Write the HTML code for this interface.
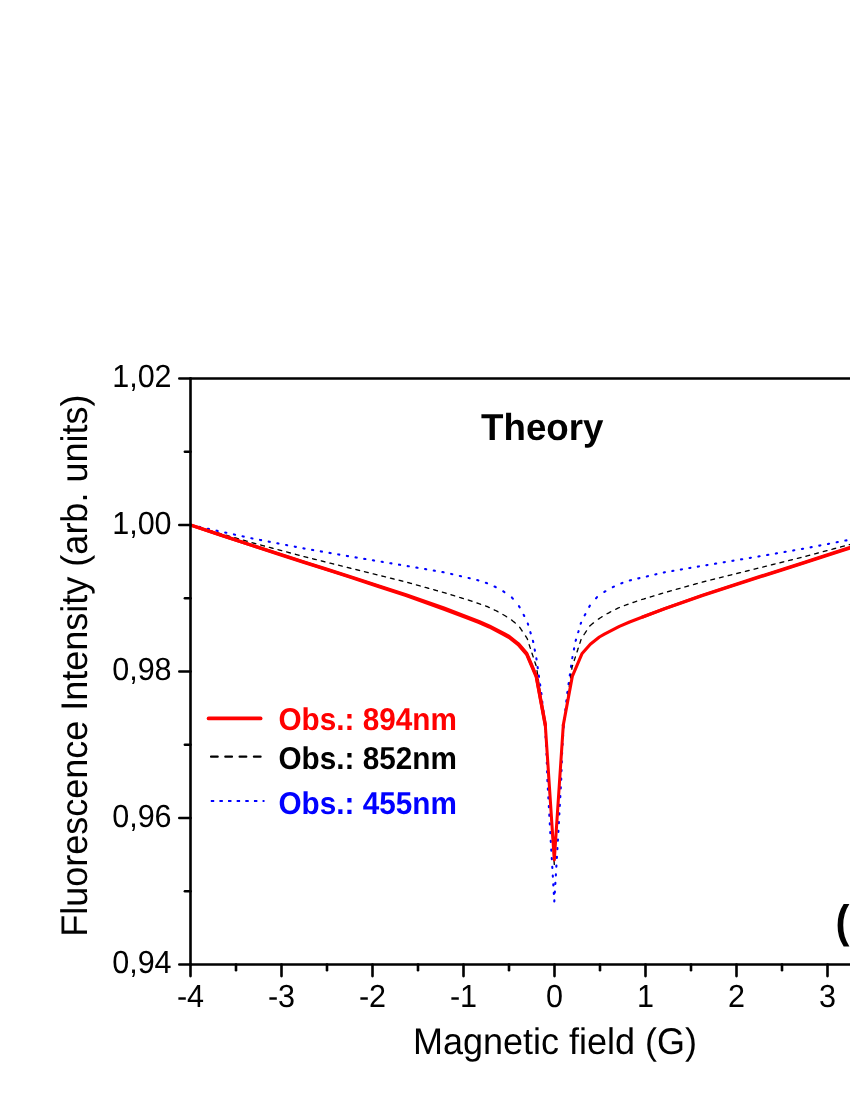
<!DOCTYPE html>
<html><head><meta charset="utf-8"><title>Theory</title>
<style>
html,body{margin:0;padding:0;background:#fff;}
body{width:850px;height:1100px;overflow:hidden;font-family:"Liberation Sans",sans-serif;}
svg{display:block;will-change:transform;opacity:0.999;}
text{text-rendering:geometricPrecision;}
</style></head><body>
<svg width="850" height="1100" viewBox="0 0 850 1100">
<rect width="850" height="1100" fill="#fff"/>
<defs><clipPath id="pc"><rect x="190.5" y="378.5" width="700" height="586"/></clipPath></defs>
<g clip-path="url(#pc)" fill="none">
<path d="M190.50,525.00 L190.99,525.11 L191.48,525.21 L191.58,525.23 M199.15,526.88 L199.64,526.99 L200.13,527.10 L200.28,527.13 M207.81,528.76 L208.30,528.87 L208.78,528.98 L208.98,529.02 M216.51,530.66 L217.00,530.76 L217.49,530.87 L217.68,530.91 M225.21,532.55 L225.70,532.66 L226.19,532.76 L226.34,532.80 M233.91,534.44 L234.40,534.55 L234.89,534.66 L235.04,534.69 M242.57,536.33 L243.06,536.43 L243.54,536.54 L243.74,536.58 M251.27,538.22 L251.76,538.33 L252.25,538.43 L252.44,538.47 M259.96,539.93 L260.45,540.02 L260.94,540.12 L261.13,540.15 M268.65,541.61 L269.14,541.71 L269.63,541.80 L269.78,541.83 M277.34,543.30 L277.83,543.40 L278.32,543.49 L278.47,543.52 M286.03,544.99 L286.52,545.09 L287.01,545.18 L287.16,545.21 M294.72,546.68 L295.21,546.77 L295.70,546.87 L295.85,546.90 M303.41,548.37 L303.90,548.46 L304.40,548.55 L304.54,548.58 M312.09,549.89 L312.58,549.97 L313.07,550.06 L313.22,550.08 M320.77,551.39 L321.26,551.48 L321.75,551.56 L321.95,551.60 M329.49,552.91 L329.99,552.99 L330.48,553.08 L330.63,553.10 M338.17,554.41 L338.67,554.50 L339.16,554.58 L339.31,554.61 M346.85,555.92 L347.34,556.00 L347.84,556.09 L347.99,556.11 M355.53,557.39 L356.03,557.47 L356.52,557.55 L356.72,557.59 M364.21,558.84 L364.71,558.92 L365.20,559.00 L365.40,559.03 M372.90,560.28 L373.39,560.37 L373.88,560.45 L374.08,560.48 M381.63,561.74 L382.12,561.82 L382.62,561.90 L382.76,561.93 M390.31,563.19 L390.81,563.27 L391.30,563.35 L391.45,563.37 M398.99,564.63 L399.49,564.71 L399.98,564.80 L400.13,564.82 M407.68,566.09 L408.17,566.17 L408.66,566.26 L408.81,566.28 M416.35,567.57 L416.84,567.65 L417.34,567.74 L417.53,567.77 M425.07,569.06 L425.57,569.15 L426.06,569.23 L426.21,569.26 M433.75,570.55 L434.24,570.63 L434.73,570.72 L434.88,570.74 M442.42,572.03 L442.92,572.11 L443.41,572.20 L443.61,572.23 M451.13,573.94 L451.62,574.06 L452.10,574.17 L452.30,574.22 M459.82,575.95 L460.30,576.06 L460.79,576.18 L460.99,576.22 M468.50,577.95 L468.99,578.07 L469.48,578.19 L469.68,578.23 M477.21,580.03 L477.69,580.16 L478.17,580.32 L478.36,580.38 M485.87,582.79 L486.34,582.96 L486.80,583.16 L487.03,583.26 M494.58,586.56 L495.03,586.77 L495.47,587.01 L495.73,587.16 M503.24,591.26 L503.67,591.51 L504.08,591.80 L504.41,592.03 M511.85,597.45 L512.17,597.84 L512.50,598.22 L512.82,598.61 M518.98,606.13 L519.22,606.57 L519.46,607.01 L519.60,607.28 M523.63,614.83 L523.87,615.27 L524.11,615.71 L524.25,615.98 M527.80,623.51 L527.94,623.99 L528.08,624.47 L528.14,624.66 M530.37,632.19 L530.51,632.67 L530.65,633.15 L530.71,633.34 M532.94,640.87 L533.09,641.35 L533.19,641.84 L533.23,642.04 M534.71,649.60 L534.81,650.09 L534.90,650.58 L534.93,650.73 M536.38,658.29 L536.45,658.79 L536.52,659.29 L536.54,659.44 M537.60,666.97 L537.67,667.47 L537.74,667.96 L537.76,668.11 M538.82,675.65 L538.89,676.14 L538.97,676.64 L538.99,676.79 M540.08,684.32 L540.15,684.82 L540.23,685.31 L540.26,685.51 M541.34,693.05 L541.39,693.55 L541.45,694.04 L541.47,694.19 M542.30,701.71 L542.36,702.21 L542.41,702.70 L542.43,702.85 M543.27,710.42 L543.33,710.92 L543.39,711.41 L543.40,711.56 M544.24,719.08 L544.30,719.58 L544.35,720.07 L544.37,720.27 M545.07,727.80 L545.10,728.30 L545.13,728.80 L545.14,728.95 M545.59,736.50 L545.62,737.00 L545.65,737.50 L545.66,737.65 M546.11,745.15 L546.14,745.65 L546.17,746.15 L546.18,746.30 M546.53,753.85 L546.54,754.35 L546.56,754.85 L546.57,755.00 M546.82,762.55 L546.83,763.05 L546.85,763.55 L546.86,763.70 M547.11,771.25 L547.12,771.75 L547.14,772.25 L547.15,772.40 M547.40,779.90 L547.42,780.40 L547.45,780.90 L547.46,781.10 M547.87,788.59 L547.90,789.09 L547.93,789.59 L547.94,789.74 M548.35,797.29 L548.38,797.79 L548.41,798.28 L548.41,798.43 M548.83,805.98 L548.86,806.48 L548.88,806.98 L548.89,807.13 M549.31,814.67 L549.33,815.17 L549.36,815.67 L549.37,815.82 M549.79,823.36 L549.81,823.86 L549.84,824.36 L549.85,824.51 M550.26,832.06 L550.29,832.56 L550.32,833.06 L550.33,833.21 M550.74,840.75 L550.77,841.25 L550.80,841.75 L550.81,841.90 M551.25,849.43 L551.28,849.93 L551.31,850.43 L551.32,850.58 M551.76,858.12 L551.79,858.62 L551.82,859.12 L551.83,859.27 M552.27,866.81 L552.30,867.31 L552.33,867.80 L552.34,867.95 M552.78,875.49 L552.81,875.99 L552.84,876.49 L552.84,876.64 M553.29,884.18 L553.32,884.68 L553.34,885.18 L553.35,885.33 M553.79,892.86 L553.82,893.36 L553.85,893.86 L553.86,894.01 M554.31,901.40 L554.34,900.90 L554.36,900.40 L554.37,900.25 M554.81,892.71 L554.84,892.22 L554.87,891.72 L554.88,891.57 M555.32,884.03 L555.35,883.53 L555.38,883.03 L555.39,882.88 M555.83,875.34 L555.86,874.84 L555.89,874.34 L555.90,874.19 M556.34,866.66 L556.37,866.16 L556.40,865.66 L556.41,865.51 M556.85,857.97 L556.88,857.47 L556.91,856.97 L556.92,856.82 M557.36,849.28 L557.39,848.79 L557.41,848.29 L557.42,848.14 M557.86,840.60 L557.89,840.10 L557.92,839.60 L557.93,839.45 M558.35,831.91 L558.37,831.41 L558.40,830.91 L558.41,830.76 M558.82,823.21 L558.85,822.71 L558.88,822.21 L558.89,822.06 M559.30,814.52 L559.33,814.02 L559.36,813.52 L559.36,813.37 M559.78,805.83 L559.81,805.33 L559.83,804.83 L559.84,804.68 M560.26,797.14 L560.29,796.64 L560.31,796.14 L560.32,795.99 M560.74,788.44 L560.76,787.94 L560.79,787.44 L560.80,787.29 M561.21,779.80 L561.22,779.30 L561.24,778.80 L561.24,778.65 M561.50,771.10 L561.51,770.60 L561.53,770.10 L561.53,769.95 M561.79,762.40 L561.80,761.90 L561.82,761.40 L561.82,761.25 M562.08,753.70 L562.09,753.20 L562.11,752.70 L562.11,752.55 M562.50,745.00 L562.53,744.50 L562.56,744.00 L562.57,743.85 M563.02,736.35 L563.05,735.85 L563.08,735.35 L563.09,735.20 M563.54,727.65 L563.57,727.15 L563.60,726.65 L563.61,726.50 M564.38,718.93 L564.43,718.43 L564.49,717.93 L564.50,717.78 M565.34,710.27 L565.40,709.77 L565.45,709.27 L565.47,709.12 M566.31,701.56 L566.37,701.06 L566.42,700.56 L566.44,700.41 M567.28,692.90 L567.34,692.40 L567.42,691.91 L567.44,691.71 M568.54,684.17 L568.61,683.68 L568.68,683.18 L568.70,683.03 M569.80,675.50 L569.87,675.00 L569.94,674.51 L569.96,674.36 M571.02,666.82 L571.09,666.33 L571.16,665.83 L571.18,665.68 M572.24,658.15 L572.31,657.65 L572.41,657.16 L572.44,656.96 M573.92,649.45 L574.02,648.96 L574.11,648.47 L574.15,648.27 M575.67,640.82 L575.81,640.35 L575.95,639.87 L576.01,639.67 M578.20,632.29 L578.34,631.81 L578.49,631.33 L578.53,631.19 M580.72,623.80 L580.86,623.32 L581.00,622.84 L581.04,622.70 M584.71,615.32 L584.94,614.88 L585.18,614.43 L585.32,614.17 M589.26,606.79 L589.50,606.35 L589.73,605.91 L589.85,605.69 M596.04,598.30 L596.36,597.91 L596.69,597.53 L596.98,597.18 M604.32,591.94 L604.73,591.66 L605.14,591.38 L605.41,591.23 M612.82,587.18 L613.26,586.94 L613.70,586.70 L613.93,586.60 M621.30,583.38 L621.76,583.18 L622.22,582.98 L622.45,582.88 M629.81,580.52 L630.29,580.36 L630.77,580.21 L630.96,580.15 M638.29,578.38 L638.78,578.27 L639.26,578.15 L639.46,578.11 M646.83,576.40 L647.32,576.29 L647.81,576.18 L647.95,576.14 M655.33,574.44 L655.81,574.33 L656.30,574.22 L656.45,574.18 M663.82,572.48 L664.31,572.37 L664.80,572.27 L664.95,572.24 M672.34,570.98 L672.83,570.89 L673.32,570.81 L673.42,570.79 M680.82,569.53 L681.31,569.44 L681.80,569.36 L681.95,569.33 M689.34,568.07 L689.83,567.98 L690.33,567.90 L690.43,567.88 M697.82,566.62 L698.31,566.53 L698.80,566.45 L698.95,566.42 M706.35,565.18 L706.84,565.09 L707.34,565.01 L707.48,564.99 M714.98,563.74 L715.48,563.65 L715.97,563.57 L716.17,563.54 M723.71,562.28 L724.21,562.20 L724.70,562.12 L724.85,562.09 M732.40,560.83 L732.89,560.75 L733.38,560.67 L733.53,560.64 M741.08,559.39 L741.57,559.30 L742.07,559.22 L742.21,559.20 M749.76,557.94 L750.26,557.86 L750.75,557.78 L750.90,557.75 M758.45,556.49 L758.94,556.40 L759.43,556.32 L759.58,556.29 M767.12,554.98 L767.62,554.90 L768.11,554.81 L768.31,554.78 M775.85,553.47 L776.34,553.38 L776.84,553.30 L776.99,553.27 M784.53,551.96 L785.02,551.88 L785.52,551.79 L785.66,551.77 M793.21,550.46 L793.70,550.37 L794.19,550.29 L794.34,550.26 M801.89,548.95 L802.38,548.87 L802.87,548.78 L803.07,548.75 M810.59,547.32 L811.08,547.22 L811.57,547.13 L811.72,547.10 M819.28,545.63 L819.77,545.53 L820.26,545.44 L820.41,545.41 M827.97,543.94 L828.46,543.85 L828.95,543.75 L829.10,543.72 M836.66,542.25 L837.15,542.16 L837.64,542.06 L837.79,542.03 M845.35,540.56 L845.84,540.47 L846.34,540.37 L846.48,540.35 M854.04,538.88 L854.54,538.78 L855.03,538.69 L855.17,538.66 M862.71,537.05 L863.20,536.94 L863.69,536.84 L863.88,536.79 M871.41,535.16 L871.90,535.05 L872.39,534.94 L872.58,534.90 M880.11,533.26 L880.60,533.16 L881.09,533.05 L881.24,533.02 M888.77,531.38 L889.26,531.27 L889.74,531.17 L889.94,531.13 M897.47,529.49 L897.96,529.38 L898.45,529.28 L898.64,529.23 M906.17,527.59 L906.66,527.49 L907.15,527.38 L907.30,527.35 M914.87,525.70 L915.36,525.60 L915.85,525.49 L916.00,525.46" stroke="#0000ff" stroke-width="2.1" stroke-linecap="round"/>
<path d="M191.51,525.29 L191.99,525.43 L192.47,525.57 L192.95,525.70 L193.43,525.84 L193.91,525.98 L194.40,526.12 L194.88,526.26 L195.21,526.35 M200.17,527.78 L200.65,527.92 L201.13,528.05 L201.61,528.19 L202.09,528.33 L202.57,528.47 L203.05,528.61 L203.53,528.74 L203.87,528.84 M208.82,530.26 L209.30,530.40 L209.78,530.54 L210.27,530.68 L210.75,530.82 L211.23,530.96 L211.71,531.09 L212.19,531.23 L212.48,531.31 M217.43,532.74 L217.91,532.88 L218.39,533.01 L218.87,533.15 L219.35,533.29 L219.84,533.43 L220.32,533.57 L220.80,533.70 L221.13,533.80 M226.09,535.22 L226.57,535.36 L227.05,535.50 L227.53,535.64 L228.01,535.78 L228.49,535.92 L228.97,536.05 L229.45,536.19 L229.79,536.29 M234.74,537.71 L235.23,537.85 L235.71,537.99 L236.19,538.13 L236.67,538.26 L237.15,538.40 L237.63,538.54 L238.11,538.68 L238.45,538.78 M243.40,540.20 L243.88,540.34 L244.36,540.47 L244.84,540.61 L245.32,540.75 L245.81,540.89 L246.29,541.03 L246.77,541.17 L247.10,541.26 M252.06,542.69 L252.54,542.82 L253.02,542.96 L253.50,543.10 L253.98,543.23 L254.47,543.36 L254.95,543.49 L255.43,543.62 L255.77,543.71 M260.70,545.02 L261.18,545.15 L261.67,545.28 L262.15,545.41 L262.63,545.54 L263.12,545.67 L263.60,545.80 L264.08,545.93 L264.42,546.02 M269.35,547.34 L269.83,547.47 L270.32,547.60 L270.80,547.72 L271.28,547.85 L271.77,547.98 L272.25,548.11 L272.73,548.24 L273.07,548.33 M278.00,549.65 L278.48,549.78 L278.97,549.91 L279.45,550.04 L279.93,550.17 L280.42,550.30 L280.90,550.42 L281.38,550.55 L281.72,550.64 M286.65,551.96 L287.13,552.09 L287.62,552.22 L288.10,552.35 L288.58,552.48 L289.07,552.61 L289.55,552.74 L290.03,552.87 L290.37,552.96 M295.30,554.27 L295.78,554.40 L296.27,554.53 L296.75,554.66 L297.23,554.79 L297.72,554.92 L298.20,555.05 L298.68,555.18 L299.02,555.27 M303.95,556.59 L304.44,556.71 L304.92,556.83 L305.41,556.95 L305.89,557.07 L306.38,557.19 L306.86,557.31 L307.35,557.44 L307.64,557.51 M312.59,558.74 L313.08,558.86 L313.56,558.99 L314.05,559.11 L314.53,559.23 L315.02,559.35 L315.50,559.47 L315.99,559.59 L316.28,559.66 M321.23,560.90 L321.72,561.02 L322.20,561.14 L322.69,561.26 L323.17,561.38 L323.66,561.50 L324.14,561.63 L324.63,561.75 L324.97,561.83 M329.92,563.07 L330.41,563.19 L330.89,563.31 L331.38,563.43 L331.86,563.55 L332.35,563.67 L332.83,563.79 L333.32,563.91 L333.61,563.99 M338.56,565.22 L339.04,565.34 L339.53,565.46 L340.02,565.58 L340.50,565.71 L340.99,565.83 L341.47,565.95 L341.96,566.07 L342.25,566.14 M347.20,567.38 L347.68,567.50 L348.17,567.62 L348.66,567.74 L349.14,567.86 L349.63,567.98 L350.11,568.10 L350.60,568.22 L350.89,568.30 M355.84,569.53 L356.33,569.65 L356.81,569.77 L357.30,569.89 L357.78,570.01 L358.27,570.13 L358.75,570.25 L359.24,570.37 L359.53,570.45 M364.48,571.68 L364.97,571.80 L365.46,571.92 L365.94,572.04 L366.43,572.16 L366.91,572.28 L367.40,572.40 L367.88,572.52 L368.22,572.61 M373.13,573.83 L373.61,573.95 L374.10,574.07 L374.58,574.19 L375.07,574.31 L375.56,574.43 L376.04,574.55 L376.53,574.67 L376.87,574.76 M381.82,575.99 L382.30,576.11 L382.79,576.23 L383.28,576.35 L383.76,576.47 L384.25,576.59 L384.73,576.71 L385.22,576.83 L385.51,576.90 M390.46,578.14 L390.95,578.26 L391.43,578.38 L391.92,578.50 L392.40,578.62 L392.89,578.74 L393.38,578.86 L393.86,578.98 L394.15,579.05 M399.10,580.29 L399.59,580.41 L400.08,580.53 L400.56,580.65 L401.05,580.77 L401.53,580.89 L402.02,581.01 L402.50,581.13 L402.80,581.20 M407.73,582.48 L408.22,582.62 L408.70,582.75 L409.18,582.89 L409.66,583.02 L410.14,583.16 L410.62,583.29 L411.11,583.42 L411.44,583.52 M416.40,584.90 L416.88,585.04 L417.37,585.17 L417.85,585.30 L418.33,585.44 L418.81,585.57 L419.29,585.71 L419.77,585.84 L420.11,585.94 M425.07,587.32 L425.55,587.45 L426.04,587.59 L426.52,587.72 L427.00,587.86 L427.48,587.99 L427.96,588.13 L428.44,588.26 L428.73,588.34 M433.69,589.72 L434.17,589.86 L434.66,589.99 L435.14,590.13 L435.62,590.26 L436.10,590.40 L436.58,590.53 L437.06,590.67 L437.40,590.76 M442.36,592.14 L442.84,592.28 L443.33,592.41 L443.81,592.55 L444.29,592.69 L444.77,592.83 L445.25,592.98 L445.72,593.13 L446.06,593.23 M450.99,594.74 L451.47,594.89 L451.95,595.04 L452.43,595.18 L452.91,595.33 L453.39,595.48 L453.87,595.62 L454.34,595.77 L454.68,595.87 M459.66,597.40 L460.14,597.55 L460.62,597.69 L461.10,597.84 L461.58,597.99 L462.05,598.13 L462.53,598.28 L463.01,598.43 L463.35,598.53 M468.28,600.04 L468.76,600.19 L469.24,600.34 L469.72,600.48 L470.19,600.63 L470.67,600.80 L471.14,600.96 L471.61,601.13 L471.99,601.26 M476.95,602.99 L477.42,603.15 L477.90,603.32 L478.37,603.48 L478.84,603.65 L479.31,603.81 L479.79,603.98 L480.26,604.14 L480.64,604.28 M485.60,606.01 L486.07,606.17 L486.54,606.34 L487.02,606.50 L487.48,606.69 L487.93,606.90 L488.39,607.11 L488.84,607.33 L489.29,607.54 M494.23,609.87 L494.69,610.08 L495.14,610.29 L495.59,610.51 L496.04,610.72 L496.48,610.97 L496.92,611.21 L497.36,611.45 L497.80,611.69 L497.97,611.79 M502.88,614.50 L503.32,614.75 L503.76,614.99 L504.19,615.23 L504.63,615.48 L505.05,615.75 L505.47,616.03 L505.89,616.30 L506.31,616.57 L506.60,616.76 M511.56,619.97 L511.95,620.29 L512.34,620.60 L512.73,620.92 L513.11,621.24 L513.50,621.55 L513.89,621.87 L514.28,622.19 L514.67,622.50 L515.05,622.82 L515.25,622.98 M519.70,627.30 L519.98,627.72 L520.26,628.13 L520.54,628.55 L520.82,628.96 L521.10,629.38 L521.38,629.80 L521.65,630.21 L521.93,630.63 L522.18,631.00 M525.50,635.96 L525.78,636.38 L526.06,636.79 L526.34,637.21 L526.61,637.63 L526.89,638.04 L527.17,638.46 L527.34,638.93 L527.49,639.40 L527.57,639.64 M529.19,644.59 L529.34,645.07 L529.50,645.54 L529.65,646.02 L529.81,646.49 L529.96,646.97 L530.12,647.44 L530.27,647.92 L530.40,648.30 M532.01,653.25 L532.17,653.73 L532.32,654.20 L532.48,654.68 L532.63,655.15 L532.79,655.63 L532.94,656.10 L533.10,656.58 L533.22,656.96 M534.84,661.91 L534.99,662.38 L535.15,662.86 L535.30,663.34 L535.46,663.81 L535.62,664.29 L535.77,664.76 L535.93,665.24 L536.05,665.62 M537.01,670.56 L537.09,671.06 L537.16,671.56 L537.23,672.05 L537.30,672.55 L537.37,673.04 L537.44,673.54 L537.51,674.03 L537.54,674.23 M538.26,679.18 L538.33,679.68 L538.40,680.17 L538.47,680.67 L538.54,681.16 L538.61,681.66 L538.69,682.15 L538.76,682.65 L538.79,682.89 M539.51,687.84 L539.58,688.34 L539.65,688.84 L539.72,689.33 L539.79,689.83 L539.86,690.32 L539.94,690.82 L540.01,691.31 L540.04,691.56 M540.76,696.51 L540.83,697.00 L540.90,697.50 L540.97,698.00 L541.04,698.49 L541.11,698.99 L541.19,699.48 L541.26,699.98 L541.29,700.22 M542.01,705.17 L542.08,705.67 L542.15,706.16 L542.22,706.66 L542.29,707.16 L542.36,707.65 L542.44,708.15 L542.51,708.64 L542.54,708.84 M543.25,713.79 L543.32,714.28 L543.39,714.78 L543.46,715.28 L543.54,715.77 L543.61,716.27 L543.68,716.76 L543.75,717.26 L543.79,717.50 M544.50,722.45 L544.57,722.95 L544.64,723.44 L544.71,723.94 L544.79,724.44 L544.86,724.93 L544.93,725.43 L545.00,725.92 L545.04,726.17 M545.50,731.09 L545.54,731.59 L545.57,732.09 L545.60,732.59 L545.64,733.09 L545.67,733.59 L545.70,734.09 L545.73,734.59 L545.75,734.79 M546.07,739.73 L546.11,740.23 L546.14,740.73 L546.17,741.23 L546.20,741.72 L546.24,742.22 L546.27,742.72 L546.30,743.22 L546.32,743.47 M546.65,748.41 L546.68,748.91 L546.71,749.41 L546.74,749.91 L546.78,750.41 L546.81,750.91 L546.84,751.41 L546.88,751.91 L546.89,752.11 M547.22,757.05 L547.25,757.55 L547.28,758.04 L547.31,758.54 L547.35,759.04 L547.38,759.54 L547.41,760.04 L547.45,760.54 L547.46,760.74 M547.78,765.68 L547.82,766.18 L547.85,766.68 L547.88,767.18 L547.92,767.68 L547.95,768.18 L547.98,768.68 L548.01,769.17 L548.03,769.42 M548.36,774.37 L548.39,774.86 L548.42,775.36 L548.46,775.86 L548.49,776.36 L548.52,776.86 L548.55,777.36 L548.59,777.86 L548.60,778.06 M548.93,783.00 L548.96,783.50 L548.99,784.00 L549.03,784.50 L549.06,785.00 L549.09,785.49 L549.12,785.99 L549.16,786.49 L549.17,786.69 M549.50,791.63 L549.53,792.13 L549.56,792.63 L549.59,793.13 L549.63,793.63 L549.66,794.13 L549.69,794.63 L549.73,795.13 L549.74,795.33 M550.07,800.32 L550.10,800.82 L550.13,801.32 L550.17,801.81 L550.20,802.31 L550.23,802.81 L550.27,803.31 L550.30,803.81 L550.31,804.01 M550.64,808.95 L550.67,809.45 L550.70,809.95 L550.74,810.45 L550.77,810.95 L550.80,811.45 L550.83,811.95 L550.87,812.45 L550.88,812.64 M551.21,817.59 L551.24,818.09 L551.27,818.58 L551.31,819.08 L551.34,819.58 L551.37,820.08 L551.40,820.58 L551.44,821.08 L551.45,821.28 M551.78,826.27 L551.81,826.77 L551.85,827.27 L551.88,827.77 L551.91,828.27 L551.94,828.77 L551.98,829.26 L552.01,829.76 L552.02,829.96 M552.35,834.90 L552.38,835.40 L552.41,835.90 L552.45,836.40 L552.48,836.90 L552.51,837.40 L552.55,837.90 L552.58,838.40 L552.59,838.60 M552.92,843.54 L552.95,844.04 L552.98,844.54 L553.02,845.04 L553.05,845.53 L553.08,846.03 L553.12,846.53 L553.15,847.03 L553.16,847.23 M553.49,852.22 L553.52,852.72 L553.56,853.22 L553.59,853.72 L553.62,854.22 L553.66,854.72 L553.69,855.22 L553.72,855.72 L553.73,855.92 M554.06,860.86 L554.09,861.36 L554.13,861.85 L554.16,862.35 L554.19,862.85 L554.22,863.35 L554.26,863.85 L554.29,864.35 L554.30,864.45 M554.63,859.51 L554.66,859.01 L554.69,858.51 L554.73,858.01 L554.76,857.51 L554.79,857.01 L554.83,856.51 L554.86,856.02 L554.87,855.82 M555.20,850.87 L555.23,850.38 L555.26,849.88 L555.30,849.38 L555.33,848.88 L555.36,848.38 L555.40,847.88 L555.43,847.38 L555.45,847.13 M555.77,842.19 L555.80,841.69 L555.84,841.19 L555.87,840.69 L555.90,840.19 L555.94,839.70 L555.97,839.20 L556.00,838.70 L556.01,838.50 M556.34,833.56 L556.37,833.06 L556.41,832.56 L556.44,832.06 L556.47,831.56 L556.50,831.06 L556.54,830.56 L556.57,830.06 L556.58,829.86 M556.91,824.92 L556.94,824.42 L556.98,823.92 L557.01,823.43 L557.04,822.93 L557.07,822.43 L557.11,821.93 L557.14,821.43 L557.16,821.18 M557.48,816.24 L557.51,815.74 L557.55,815.24 L557.58,814.74 L557.61,814.24 L557.65,813.74 L557.68,813.24 L557.71,812.74 L557.73,812.55 M558.05,807.60 L558.08,807.11 L558.12,806.61 L558.15,806.11 L558.18,805.61 L558.22,805.11 L558.25,804.61 L558.28,804.11 L558.29,803.91 M558.62,798.97 L558.65,798.47 L558.69,797.97 L558.72,797.47 L558.75,796.97 L558.79,796.47 L558.82,795.98 L558.85,795.48 L558.87,795.23 M559.19,790.29 L559.23,789.79 L559.26,789.29 L559.29,788.79 L559.32,788.29 L559.36,787.79 L559.39,787.29 L559.42,786.79 L559.44,786.59 M559.76,781.65 L559.80,781.15 L559.83,780.65 L559.86,780.15 L559.89,779.66 L559.93,779.16 L559.96,778.66 L559.99,778.16 L560.01,777.96 M560.33,773.02 L560.36,772.52 L560.40,772.02 L560.43,771.52 L560.46,771.02 L560.50,770.52 L560.53,770.02 L560.56,769.52 L560.58,769.32 M560.90,764.33 L560.94,763.83 L560.97,763.34 L561.00,762.84 L561.04,762.34 L561.07,761.84 L561.10,761.34 L561.13,760.84 L561.15,760.64 M561.47,755.70 L561.51,755.20 L561.54,754.70 L561.57,754.20 L561.61,753.70 L561.64,753.20 L561.67,752.70 L561.70,752.21 L561.72,752.01 M562.04,747.07 L562.08,746.57 L562.11,746.07 L562.14,745.57 L562.17,745.07 L562.21,744.57 L562.24,744.07 L562.27,743.57 L562.29,743.37 M562.62,738.38 L562.65,737.88 L562.68,737.38 L562.71,736.88 L562.75,736.38 L562.78,735.89 L562.81,735.39 L562.85,734.89 L562.86,734.69 M563.18,729.75 L563.22,729.25 L563.25,728.75 L563.28,728.25 L563.34,727.75 L563.41,727.26 L563.48,726.76 L563.55,726.27 L563.58,726.07 M564.29,721.12 L564.36,720.62 L564.44,720.13 L564.51,719.63 L564.58,719.14 L564.65,718.64 L564.72,718.15 L564.79,717.65 L564.83,717.40 M565.54,712.45 L565.61,711.96 L565.69,711.46 L565.76,710.97 L565.83,710.47 L565.90,709.98 L565.97,709.48 L566.04,708.99 L566.08,708.74 M566.79,703.79 L566.86,703.29 L566.94,702.80 L567.01,702.30 L567.08,701.81 L567.15,701.31 L567.22,700.82 L567.29,700.32 L567.32,700.12 M568.04,695.17 L568.11,694.68 L568.18,694.18 L568.25,693.69 L568.32,693.19 L568.39,692.70 L568.46,692.20 L568.54,691.71 L568.57,691.46 M569.29,686.51 L569.36,686.01 L569.43,685.52 L569.50,685.02 L569.57,684.53 L569.64,684.03 L569.71,683.54 L569.79,683.04 L569.82,682.79 M570.54,677.84 L570.61,677.35 L570.68,676.85 L570.75,676.36 L570.82,675.86 L570.89,675.37 L570.96,674.87 L571.04,674.38 L571.07,674.13 M571.79,669.18 L571.86,668.68 L571.93,668.19 L572.00,667.69 L572.07,667.20 L572.19,666.71 L572.35,666.24 L572.50,665.76 L572.60,665.48 M574.21,660.53 L574.37,660.05 L574.52,659.58 L574.68,659.10 L574.83,658.63 L574.99,658.15 L575.14,657.67 L575.30,657.20 L575.41,656.87 M577.02,651.92 L577.18,651.44 L577.33,650.97 L577.49,650.49 L577.64,650.01 L577.80,649.54 L577.95,649.06 L578.11,648.59 L578.23,648.21 M579.85,643.26 L580.00,642.78 L580.16,642.31 L580.31,641.83 L580.47,641.35 L580.62,640.88 L580.78,640.40 L580.93,639.93 L581.06,639.55 M584.02,634.59 L584.30,634.17 L584.58,633.75 L584.86,633.34 L585.13,632.92 L585.41,632.50 L585.69,632.09 L585.97,631.67 L586.25,631.25 L586.50,630.88 M589.79,625.97 L590.13,625.61 L590.52,625.29 L590.91,624.98 L591.30,624.66 L591.68,624.34 L592.07,624.03 L592.46,623.71 L592.85,623.39 L593.24,623.07 L593.47,622.88 M598.39,619.10 L598.81,618.83 L599.23,618.56 L599.65,618.29 L600.07,618.01 L600.49,617.74 L600.91,617.47 L601.33,617.20 L601.75,616.92 L602.08,616.71 M607.04,613.78 L607.47,613.53 L607.91,613.29 L608.35,613.05 L608.79,612.81 L609.23,612.57 L609.66,612.32 L610.10,612.08 L610.54,611.84 L610.76,611.72 M615.68,609.25 L616.13,609.03 L616.59,608.82 L617.04,608.61 L617.49,608.39 L617.95,608.18 L618.40,607.97 L618.85,607.75 L619.31,607.54 L619.40,607.50 M624.37,605.53 L624.84,605.36 L625.32,605.20 L625.79,605.03 L626.26,604.87 L626.73,604.70 L627.21,604.54 L627.68,604.37 L628.06,604.24 M633.02,602.51 L633.49,602.35 L633.96,602.18 L634.44,602.02 L634.91,601.85 L635.38,601.69 L635.85,601.52 L636.33,601.36 L636.70,601.23 M641.66,599.63 L642.14,599.48 L642.62,599.34 L643.10,599.19 L643.58,599.04 L644.06,598.90 L644.53,598.75 L645.01,598.60 L645.35,598.50 M650.28,596.99 L650.76,596.84 L651.24,596.70 L651.72,596.55 L652.20,596.40 L652.68,596.26 L653.15,596.11 L653.63,595.96 L654.02,595.84 M658.95,594.33 L659.43,594.19 L659.91,594.04 L660.39,593.89 L660.86,593.74 L661.34,593.60 L661.82,593.45 L662.30,593.30 L662.64,593.20 M667.59,591.77 L668.07,591.63 L668.55,591.50 L669.03,591.36 L669.51,591.23 L669.99,591.10 L670.48,590.96 L670.96,590.83 L671.29,590.73 M676.26,589.35 L676.74,589.21 L677.22,589.08 L677.70,588.95 L678.18,588.81 L678.66,588.68 L679.14,588.54 L679.63,588.41 L679.96,588.31 M684.88,586.94 L685.36,586.81 L685.84,586.68 L686.32,586.54 L686.80,586.41 L687.28,586.27 L687.77,586.14 L688.25,586.00 L688.58,585.91 M693.55,584.53 L694.03,584.39 L694.51,584.26 L694.99,584.12 L695.47,583.99 L695.95,583.85 L696.44,583.72 L696.92,583.59 L697.25,583.49 M702.21,582.11 L702.70,581.98 L703.18,581.86 L703.67,581.73 L704.15,581.61 L704.64,581.49 L705.12,581.37 L705.61,581.25 L705.90,581.18 M710.85,579.95 L711.34,579.83 L711.83,579.71 L712.31,579.59 L712.80,579.46 L713.28,579.34 L713.77,579.22 L714.25,579.10 L714.54,579.03 M719.50,577.80 L719.98,577.68 L720.47,577.56 L720.95,577.44 L721.44,577.32 L721.93,577.19 L722.41,577.07 L722.90,576.95 L723.19,576.88 M728.14,575.65 L728.63,575.53 L729.11,575.41 L729.60,575.29 L730.08,575.17 L730.57,575.05 L731.05,574.92 L731.54,574.80 L731.83,574.73 M736.78,573.50 L737.27,573.38 L737.75,573.26 L738.24,573.14 L738.73,573.02 L739.21,572.90 L739.70,572.78 L740.18,572.66 L740.52,572.57 M745.43,571.35 L745.91,571.23 L746.40,571.11 L746.88,570.99 L747.37,570.87 L747.85,570.75 L748.34,570.63 L748.83,570.51 L749.17,570.42 M754.12,569.19 L754.60,569.07 L755.09,568.95 L755.58,568.83 L756.06,568.71 L756.55,568.59 L757.03,568.47 L757.52,568.34 L757.81,568.27 M762.76,567.04 L763.25,566.92 L763.73,566.80 L764.22,566.67 L764.70,566.55 L765.19,566.43 L765.67,566.31 L766.16,566.19 L766.45,566.12 M771.40,564.88 L771.88,564.76 L772.37,564.64 L772.86,564.52 L773.34,564.40 L773.83,564.28 L774.31,564.16 L774.80,564.03 L775.09,563.96 M780.04,562.73 L780.52,562.61 L781.01,562.48 L781.50,562.36 L781.98,562.24 L782.47,562.12 L782.95,562.00 L783.44,561.88 L783.73,561.81 M788.68,560.57 L789.16,560.45 L789.65,560.33 L790.14,560.21 L790.62,560.09 L791.11,559.97 L791.59,559.85 L792.08,559.72 L792.42,559.64 M797.37,558.40 L797.85,558.28 L798.34,558.16 L798.82,558.04 L799.31,557.92 L799.79,557.80 L800.28,557.68 L800.77,557.56 L801.06,557.48 M806.00,556.23 L806.48,556.10 L806.97,555.97 L807.45,555.84 L807.93,555.71 L808.42,555.58 L808.90,555.45 L809.38,555.32 L809.72,555.23 M814.65,553.91 L815.13,553.78 L815.62,553.65 L816.10,553.53 L816.58,553.40 L817.07,553.27 L817.55,553.14 L818.03,553.01 L818.37,552.92 M823.30,551.60 L823.79,551.47 L824.27,551.34 L824.75,551.21 L825.23,551.08 L825.72,550.95 L826.20,550.83 L826.68,550.70 L827.02,550.61 M831.95,549.29 L832.44,549.16 L832.92,549.03 L833.40,548.90 L833.89,548.77 L834.37,548.64 L834.85,548.51 L835.33,548.38 L835.67,548.29 M840.60,546.98 L841.09,546.85 L841.57,546.72 L842.05,546.59 L842.54,546.46 L843.02,546.33 L843.50,546.20 L843.99,546.07 L844.32,545.98 M849.25,544.66 L849.74,544.53 L850.22,544.40 L850.70,544.28 L851.19,544.15 L851.67,544.02 L852.15,543.89 L852.64,543.76 L852.97,543.67 M857.89,542.30 L858.37,542.16 L858.85,542.02 L859.33,541.88 L859.81,541.75 L860.29,541.61 L860.77,541.47 L861.26,541.33 L861.59,541.23 M866.55,539.81 L867.03,539.67 L867.51,539.54 L867.99,539.40 L868.47,539.26 L868.95,539.12 L869.43,538.98 L869.91,538.84 L870.25,538.75 M875.20,537.32 L875.68,537.19 L876.16,537.05 L876.65,536.91 L877.13,536.77 L877.61,536.63 L878.09,536.50 L878.57,536.36 L878.91,536.26 M883.86,534.84 L884.34,534.70 L884.82,534.56 L885.30,534.42 L885.78,534.28 L886.26,534.15 L886.74,534.01 L887.23,533.87 L887.56,533.77 M892.52,532.35 L893.00,532.21 L893.48,532.07 L893.96,531.94 L894.44,531.80 L894.92,531.66 L895.40,531.52 L895.88,531.38 L896.22,531.29 M901.17,529.86 L901.65,529.73 L902.13,529.59 L902.61,529.45 L903.10,529.31 L903.58,529.17 L904.06,529.03 L904.54,528.90 L904.87,528.80 M909.78,527.39 L910.26,527.25 L910.74,527.11 L911.22,526.98 L911.70,526.84 L912.18,526.70 L912.67,526.56 L913.15,526.42 L913.48,526.33" stroke="#000" stroke-width="1.35" stroke-linecap="round"/>
<path d="M545.3,725.0 L554.3,860.0 L563.3,725.0" stroke="#ff0000" stroke-linejoin="round" stroke-linecap="round" stroke-width="3.05"/>
<path d="M190.5,525.0 L220.2,534.9 L250.0,544.7 L277.0,553.3 L304.0,562.0 L327.2,569.4 L350.5,576.7 L378.2,585.7 L406.0,594.7 L444.0,608.1 L466.0,616.5 L479.0,621.5 L489.2,625.9 L504.2,633.7 L509.2,636.5 L518.3,643.7 L526.7,653.3 L536.3,675.9 L545.3,724.5" stroke="#ff0000" stroke-linejoin="round" stroke-linecap="round" stroke-width="3.3"/>
<path d="M190.5,525.0 L220.2,534.9 L250.0,544.7 L277.0,553.6 L304.0,562.4 L327.2,569.8 L350.5,577.3 L378.2,586.4 L406.0,595.5 L444.0,609.1 L466.0,617.5 L479.0,622.5 L489.2,626.9 L504.2,634.7 L509.2,637.5 L518.3,644.7 L526.7,654.3 L536.3,676.9 L545.3,725.5" stroke="#ff0000" stroke-linejoin="round" stroke-linecap="round" stroke-width="3.3"/>
<path d="M563.3,725.0 L572.3,676.4 L581.9,653.8 L590.3,644.2 L599.4,637.0 L604.4,634.2 L619.4,626.4 L629.6,622.0 L642.6,617.0 L664.6,608.6 L702.6,595.1 L758.1,577.0 L804.6,562.2 L858.6,544.7 L918.1,525.0" stroke="#ff0000" stroke-linejoin="round" stroke-linecap="round" stroke-width="3.1"/>
<path d="M642.6,617.0 L664.6,608.7 L702.6,595.5 L730.3,586.6 L758.1,577.6 L781.3,570.2 L804.6,562.8 L831.6,554.1 L858.6,545.3 L888.3,535.5 L918.1,525.6" stroke="#ff0000" stroke-linejoin="round" stroke-linecap="round" stroke-width="3.1"/>
</g>
<g stroke="#000" stroke-width="2.6" stroke-linecap="round" fill="none">
<line x1="190.5" y1="378.5" x2="190.5" y2="964.5"/>
<line x1="190.5" y1="378.5" x2="930" y2="378.5"/>
<line x1="190.5" y1="964.5" x2="930" y2="964.5"/>
<line x1="190.50" y1="964.5" x2="190.50" y2="976.1"/>
<line x1="236.00" y1="964.5" x2="236.00" y2="970.3"/>
<line x1="281.50" y1="964.5" x2="281.50" y2="976.1"/>
<line x1="327.00" y1="964.5" x2="327.00" y2="970.3"/>
<line x1="372.50" y1="964.5" x2="372.50" y2="976.1"/>
<line x1="418.00" y1="964.5" x2="418.00" y2="970.3"/>
<line x1="463.50" y1="964.5" x2="463.50" y2="976.1"/>
<line x1="509.00" y1="964.5" x2="509.00" y2="970.3"/>
<line x1="554.50" y1="964.5" x2="554.50" y2="976.1"/>
<line x1="600.00" y1="964.5" x2="600.00" y2="970.3"/>
<line x1="645.50" y1="964.5" x2="645.50" y2="976.1"/>
<line x1="691.00" y1="964.5" x2="691.00" y2="970.3"/>
<line x1="736.50" y1="964.5" x2="736.50" y2="976.1"/>
<line x1="782.00" y1="964.5" x2="782.00" y2="970.3"/>
<line x1="827.50" y1="964.5" x2="827.50" y2="976.1"/>
<line x1="873.00" y1="964.5" x2="873.00" y2="970.3"/>
<line x1="918.50" y1="964.5" x2="918.50" y2="976.1"/>
<line x1="179.3" y1="378.50" x2="190.5" y2="378.50"/>
<line x1="184.9" y1="451.75" x2="190.5" y2="451.75"/>
<line x1="179.3" y1="525.00" x2="190.5" y2="525.00"/>
<line x1="184.9" y1="598.25" x2="190.5" y2="598.25"/>
<line x1="179.3" y1="671.50" x2="190.5" y2="671.50"/>
<line x1="184.9" y1="744.75" x2="190.5" y2="744.75"/>
<line x1="179.3" y1="818.00" x2="190.5" y2="818.00"/>
<line x1="184.9" y1="891.25" x2="190.5" y2="891.25"/>
<line x1="179.3" y1="964.50" x2="190.5" y2="964.50"/>
</g>
<text transform="translate(171.60,387.00) scale(0.985,1.03)" font-family="'Liberation Sans', sans-serif" font-size="31" text-anchor="end" fill="#000">1,02</text>
<text transform="translate(171.60,533.50) scale(0.985,1.03)" font-family="'Liberation Sans', sans-serif" font-size="31" text-anchor="end" fill="#000">1,00</text>
<text transform="translate(171.60,680.00) scale(0.985,1.03)" font-family="'Liberation Sans', sans-serif" font-size="31" text-anchor="end" fill="#000">0,98</text>
<text transform="translate(171.60,826.50) scale(0.985,1.03)" font-family="'Liberation Sans', sans-serif" font-size="31" text-anchor="end" fill="#000">0,96</text>
<text transform="translate(171.60,973.00) scale(0.985,1.03)" font-family="'Liberation Sans', sans-serif" font-size="31" text-anchor="end" fill="#000">0,94</text>
<text transform="translate(190.50,1007.40) scale(0.985,1.03)" font-family="'Liberation Sans', sans-serif" font-size="31" text-anchor="middle" fill="#000">-4</text>
<text transform="translate(281.50,1007.40) scale(0.985,1.03)" font-family="'Liberation Sans', sans-serif" font-size="31" text-anchor="middle" fill="#000">-3</text>
<text transform="translate(372.50,1007.40) scale(0.985,1.03)" font-family="'Liberation Sans', sans-serif" font-size="31" text-anchor="middle" fill="#000">-2</text>
<text transform="translate(463.50,1007.40) scale(0.985,1.03)" font-family="'Liberation Sans', sans-serif" font-size="31" text-anchor="middle" fill="#000">-1</text>
<text transform="translate(554.50,1007.40) scale(0.985,1.03)" font-family="'Liberation Sans', sans-serif" font-size="31" text-anchor="middle" fill="#000">0</text>
<text transform="translate(645.50,1007.40) scale(0.985,1.03)" font-family="'Liberation Sans', sans-serif" font-size="31" text-anchor="middle" fill="#000">1</text>
<text transform="translate(736.50,1007.40) scale(0.985,1.03)" font-family="'Liberation Sans', sans-serif" font-size="31" text-anchor="middle" fill="#000">2</text>
<text transform="translate(827.50,1007.40) scale(0.985,1.03)" font-family="'Liberation Sans', sans-serif" font-size="31" text-anchor="middle" fill="#000">3</text>
<text transform="translate(918.50,1007.40) scale(0.985,1.03)" font-family="'Liberation Sans', sans-serif" font-size="31" text-anchor="middle" fill="#000">4</text>
<text transform="translate(555.00,1053.80) scale(1.0,1.03)" font-family="'Liberation Sans', sans-serif" font-size="36" text-anchor="middle" fill="#000">Magnetic field (G)</text>
<text transform="translate(87.30,665.70) rotate(-90) scale(1.0,1.03)" font-family="'Liberation Sans', sans-serif" font-size="36" text-anchor="middle" fill="#000">Fluorescence Intensity (arb. units)</text>
<text transform="translate(481.00,440.00) scale(1.007,1.03)" font-family="'Liberation Sans', sans-serif" font-size="36.5" font-weight="bold" text-anchor="start" fill="#000">Theory</text>
<text transform="translate(835.60,936.70) scale(0.93,1.01)" font-family="'Liberation Sans', sans-serif" font-size="45" font-weight="bold" text-anchor="start" fill="#000">(b)</text>
<line x1="208.6" y1="718.4" x2="260.6" y2="718.4" stroke="#ff0000" stroke-width="3.8" stroke-linecap="round"/>
<line x1="211" y1="756.7" x2="262" y2="756.7" stroke="#000" stroke-width="2.2" stroke-linecap="round" stroke-dasharray="6.7 7.6"/>
<line x1="210.8" y1="801" x2="264.5" y2="801" stroke="#0000ff" stroke-width="1.9" stroke-dasharray="3.4 5.23"/>
<text transform="translate(278.50,730.00) scale(1.007,1.07)" font-family="'Liberation Sans', sans-serif" font-size="29.5" font-weight="bold" text-anchor="start" fill="#ff0000">Obs.: 894nm</text>
<text transform="translate(278.50,769.20) scale(1.007,1.07)" font-family="'Liberation Sans', sans-serif" font-size="29.5" font-weight="bold" text-anchor="start" fill="#000">Obs.: 852nm</text>
<text transform="translate(278.50,814.00) scale(1.007,1.07)" font-family="'Liberation Sans', sans-serif" font-size="29.5" font-weight="bold" text-anchor="start" fill="#0000ff">Obs.: 455nm</text>
</svg>
</body></html>
